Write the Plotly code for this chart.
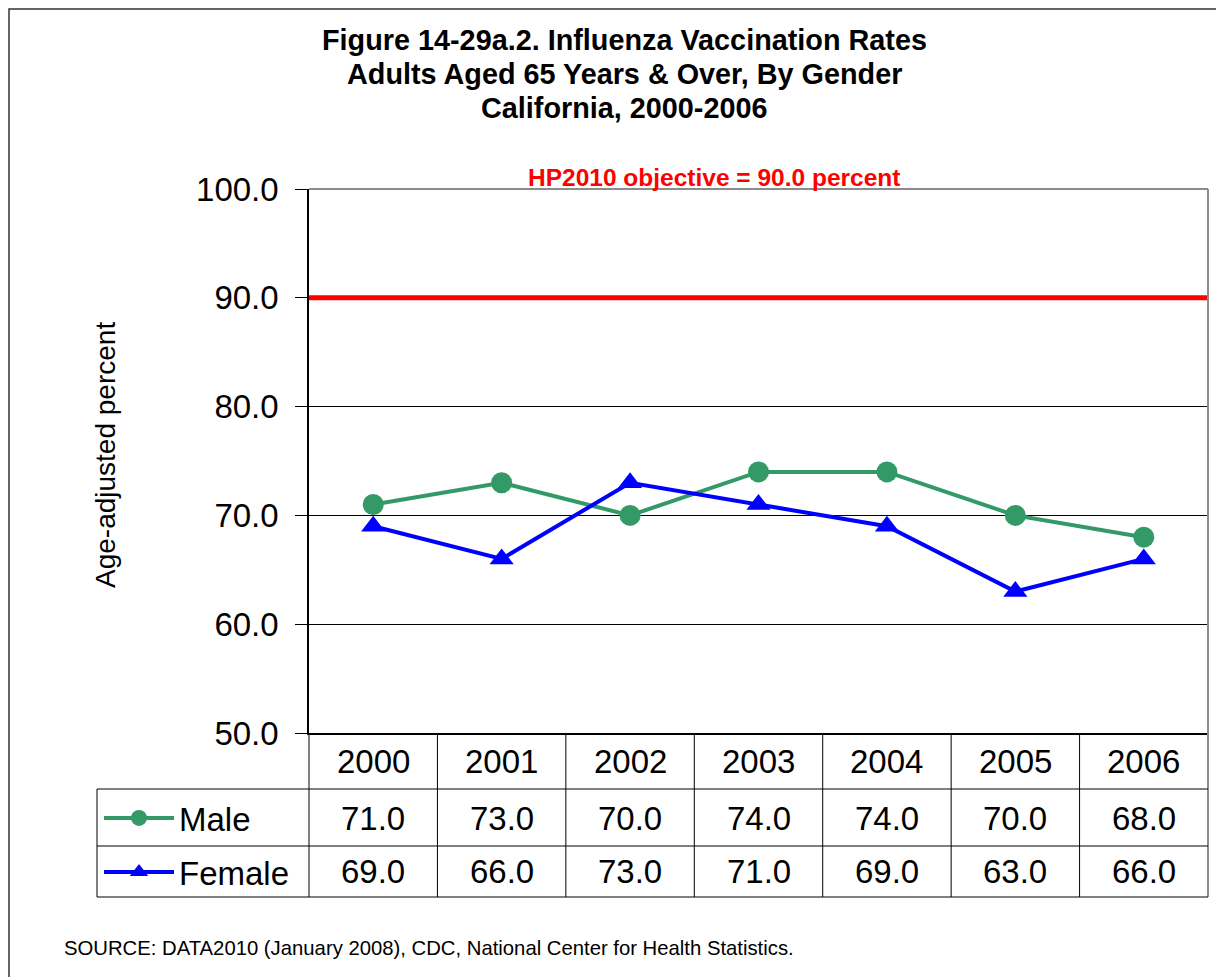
import plotly.graph_objects as go

years = ["2000", "2001", "2002", "2003", "2004", "2005", "2006"]
male = [71.0, 73.0, 70.0, 74.0, 74.0, 70.0, 68.0]
female = [69.0, 66.0, 73.0, 71.0, 69.0, 63.0, 66.0]
hp_target = 90.0
y_ticks = [50, 60, 70, 80, 90, 100]

title_lines = [
    "Figure 14-29a.2. Influenza Vaccination Rates",
    "Adults Aged 65 Years & Over, By Gender",
    "California, 2000-2006",
]
source = "SOURCE: DATA2010 (January 2008), CDC, National Center for Health Statistics."

# page body adds an 8px offset, so work in screen pixels and subtract it
OFF = 8
W, H = 1224 - OFF, 977 - OFF
L, T = 309 - OFF, 189 - OFF
R = W - (1208 - OFF)
B = H - (733 - OFF)
pw, ph = W - L - R, H - T - B

def px(x):  # screen pixel -> paper x
    return (x - OFF - L) / pw

def py(y):  # screen pixel -> paper y
    return (H - B - (y - OFF)) / ph

GREEN = "#339966"
BLUE = "#0000ff"
SANS = "Liberation Sans, Arial"

fig = go.Figure()

fig.add_trace(go.Scatter(
    x=years, y=male, name="Male", mode="lines+markers",
    line=dict(color=GREEN, width=4),
    marker=dict(symbol="circle", size=21, color=GREEN),
    legend="legend", cliponaxis=False,
))
fig.add_trace(go.Scatter(
    x=years, y=female, name="Female", mode="lines+markers",
    line=dict(color=BLUE, width=4),
    marker=dict(symbol="triangle-up", size=21, color=BLUE),
    legend="legend2", cliponaxis=False,
))

shapes = []
# HP2010 objective
shapes.append(dict(type="line", xref="paper", yref="y", x0=0, x1=1,
                   y0=hp_target, y1=hp_target, line=dict(color="#ff0000", width=5)))
# gray frame on top and right of plot
shapes.append(dict(type="line", xref="paper", yref="paper", x0=0, x1=1, y0=1, y1=1,
                   line=dict(color="#8c8c8c", width=2)))
shapes.append(dict(type="line", xref="paper", yref="paper", x0=1, x1=1,
                   y0=py(897), y1=1, line=dict(color="#8c8c8c", width=2)))
# data table grid
n = len(years)
for k in range(n):
    shapes.append(dict(type="line", xref="paper", yref="paper", x0=k / n, x1=k / n,
                       y0=py(897), y1=0, line=dict(color="#000000", width=1)))
for yy in [789, 846, 897]:
    shapes.append(dict(type="line", xref="paper", yref="paper", x0=px(97), x1=1,
                       y0=py(yy), y1=py(yy), line=dict(color="#000000", width=1)))
shapes.append(dict(type="line", xref="paper", yref="paper", x0=px(97), x1=px(97),
                   y0=py(897), y1=py(789), line=dict(color="#000000", width=1)))
# outer chart border
shapes.append(dict(type="rect", xref="paper", yref="paper", x0=px(9), x1=px(1260),
                   y0=py(1010), y1=py(9), line=dict(color="#333333", width=1.5)))

annotations = []
for i, line in enumerate(title_lines):
    annotations.append(dict(text=f"<b>{line}</b>", xref="paper", yref="paper",
                            x=px(624), y=py(40 + 34 * i), showarrow=False,
                            font=dict(family=SANS, size=28.8, color="#000000"),
                            xanchor="center", yanchor="middle"))
annotations.append(dict(text=f"<b>HP2010 objective = {hp_target:.1f} percent</b>",
                        xref="paper", yref="paper", x=px(714), y=py(178),
                        showarrow=False, xanchor="center", yanchor="middle",
                        font=dict(family=SANS, size=24.5, color="#ff0000")))
annotations.append(dict(text="Age-adjusted percent", xref="paper", yref="paper",
                        x=px(105), y=py(455), textangle=-90, showarrow=False,
                        xanchor="center", yanchor="middle",
                        font=dict(family=SANS, size=28, color="#000000")))
for i, (yr, m, f) in enumerate(zip(years, male, female)):
    cx = (i + 0.5) / n
    for txt, yy in [(yr, 761), (f"{m:.1f}", 818), (f"{f:.1f}", 872)]:
        annotations.append(dict(text=txt, xref="paper", yref="paper", x=cx, y=py(yy),
                                xanchor="center", yanchor="middle", showarrow=False,
                                font=dict(family=SANS, size=33, color="#000000")))
annotations.append(dict(text=source, xref="paper", yref="paper", x=px(62), y=py(948),
                        xanchor="left", yanchor="middle", showarrow=False,
                        font=dict(family=SANS, size=20.3, color="#000000")))

legend_common = dict(xanchor="left", yanchor="middle", bgcolor="rgba(0,0,0,0)",
                     font=dict(family=SANS, size=33, color="#000000"),
                     itemwidth=70, borderwidth=0)

fig.update_layout(
    width=W, height=H,
    margin=dict(l=L, r=R, t=T, b=B),
    paper_bgcolor="#ffffff", plot_bgcolor="#ffffff",
    showlegend=True,
    legend=dict(x=px(99), y=py(818), **legend_common),
    legend2=dict(x=px(99), y=py(872), **legend_common),
    shapes=shapes,
    annotations=annotations,
)
fig.update_xaxes(type="category", range=[-0.5, n - 0.5], showticklabels=False,
                 showgrid=False, zeroline=False, showline=True, linecolor="#000000",
                 linewidth=1.5, ticks="")
fig.update_yaxes(range=[50, 100], tickvals=y_ticks, tickformat=".1f",
                 tickfont=dict(family=SANS, size=33, color="#000000"),
                 showgrid=True, gridcolor="#000000", gridwidth=1, zeroline=False,
                 showline=True, linecolor="#000000", linewidth=1.5,
                 ticks="outside", ticklen=12, tickcolor="#000000", ticklabelstandoff=10)

fig.write_html("out.html")
